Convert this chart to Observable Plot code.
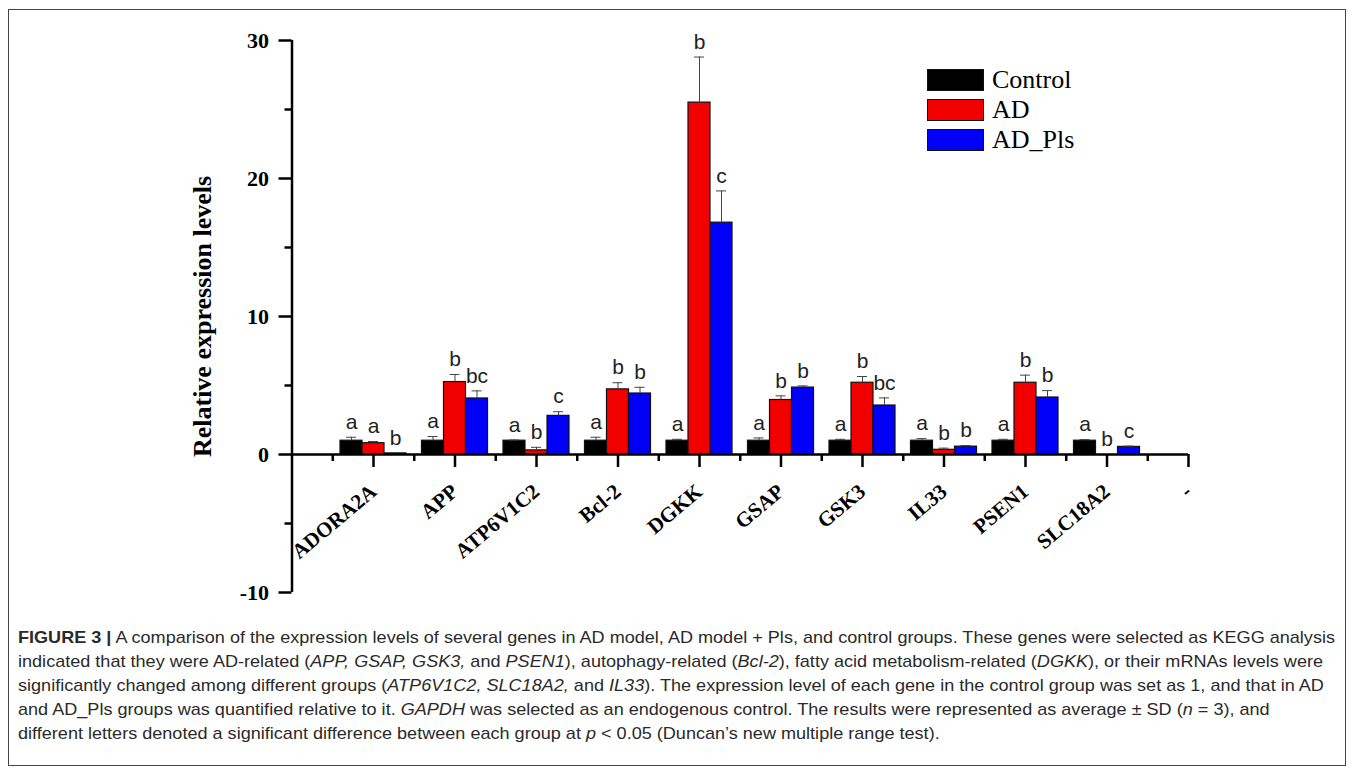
<!DOCTYPE html>
<html>
<head>
<meta charset="utf-8">
<script src="https://cdn.jsdelivr.net/npm/d3@7"></script>
<script src="https://cdn.jsdelivr.net/npm/@observablehq/plot@0.6"></script>
<style>
  html, body { margin: 0; padding: 0; background: #fff; }
  #wrap { position: relative; width: 1355px; height: 773px; overflow: hidden; }
  #frame { position: absolute; left: 8px; top: 9px; width: 1338px; height: 757px; border: 1px solid #444; box-sizing: border-box; }
  #chart { position: absolute; left: 0; top: 0; }
  #legend { position: absolute; left: 927px; top: 65px; font-family: "Liberation Serif", "Times New Roman", serif; font-size: 26px; color: #000; }
  #legend .row { display: flex; align-items: center; height: 30px; }
  #legend .sw { width: 55px; height: 20px; border: 1.5px solid #111; margin-right: 8px; }
  #caption { position: absolute; left: 18px; top: 626px; font-family: "Liberation Sans", Arial, sans-serif; font-size: 17px; line-height: 24px; color: #2a2a2a; transform-origin: 0 0; white-space: nowrap; }
  #caption .ln { display: block; }
</style>
</head>
<body>
<div id="wrap">
  <div id="frame"></div>
  <div id="chart"></div>
  <div id="legend"></div>
  <div id="caption"></div>
</div>
<script>
// ---- data ----
const genes = ["ADORA2A", "APP", "ATP6V1C2", "Bcl-2", "DGKK", "GSAP", "GSK3", "IL33", "PSEN1", "SLC18A2"];
const tickLabels = ["ADORA2A", "APP", "ATP6V1C2", "Bcl-2", "DGKK", "GSAP", "GSK3", "IL33", "PSEN1", "SLC18A2", "-"];
const groups = ["Control", "AD", "AD_Pls"];
const groupColors = ["#000000", "#f20000", "#0000f8"];

const controlMean = [1, 1, 1, 1, 1, 1, 1, 1, 1, 1];
const controlSD   = [0.25, 0.3, 0.05, 0.25, 0.1, 0.2, 0.1, 0.15, 0.1, 0.08];
const adMean      = [0.82, 5.25, 0.3, 4.72, 25.5, 3.95, 5.2, 0.34, 5.2, 0.0];
const adSD        = [0.12, 0.55, 0.22, 0.48, 3.3, 0.3, 0.45, 0.12, 0.55, 0.0];
const adPlsMean   = [0.08, 4.06, 2.8, 4.42, 16.8, 4.85, 3.55, 0.57, 4.13, 0.55];
const adPlsSD     = [0.02, 0.55, 0.3, 0.45, 2.3, 0.12, 0.55, 0.08, 0.5, 0.06];

const controlLetters = ["a", "a", "a", "a", "a", "a", "a", "a", "a", "a"];
const adLetters      = ["a", "b", "b", "b", "b", "b", "b", "b", "b", "b"];
const adPlsLetters   = ["b", "bc", "c", "b", "c", "b", "bc", "b", "b", "c"];

const yMajorTicks = [-10, 0, 10, 20, 30];
const yMinorTicks = [-5, 5, 15, 25];
const yLabel = "Relative expression levels";

// ---- table built from arrays ----
const means = [controlMean, adMean, adPlsMean];
const sds = [controlSD, adSD, adPlsSD];
const letters = [controlLetters, adLetters, adPlsLetters];
const barW = 0.27; // bar width in category units
const rows = [];
genes.forEach((g, i) => {
  groups.forEach((grp, k) => {
    const cx = (i + 1) + (k - 1) * barW;
    rows.push({gene: g, group: grp, cx, value: means[k][i], sd: sds[k][i], letter: letters[k][i]});
  });
});

const serif = "Liberation Serif, Times New Roman, serif";
const sans = "Liberation Sans, Arial, sans-serif";

const chart = Plot.plot({
  width: 1355,
  height: 625,
  marginLeft: 291.5,
  marginRight: 167,
  marginTop: 40,
  marginBottom: 33,
  x: {domain: [0, 11], axis: null},
  y: {domain: [-10, 30], axis: null},
  color: {domain: groups, range: groupColors},
  style: {background: "transparent", overflow: "visible"},
  marks: [
    // bars
    Plot.rectY(rows, {
      x1: d => d.cx - barW / 2, x2: d => d.cx + barW / 2,
      y1: 0, y2: "value", fill: "group", stroke: "#111", strokeWidth: 1.2
    }),
    // error bars
    Plot.ruleX(rows.filter(d => d.sd > 0), {x: "cx", y1: "value", y2: d => d.value + d.sd, stroke: "#444", strokeWidth: 1}),
    Plot.ruleY(rows.filter(d => d.sd > 0), {y: d => d.value + d.sd, x1: "cx", x2: "cx", insetLeft: -5, insetRight: -5, stroke: "#444", strokeWidth: 1}),
    // significance letters
    Plot.text(rows, {x: "cx", y: d => d.value + d.sd, text: "letter", dy: -15, fontFamily: sans, fontSize: 21, fill: "#222"}),
    // x axis line at y = 0
    Plot.ruleY([0], {x1: 0, x2: 11, stroke: "#000", strokeWidth: 2.5}),
    // y axis line
    Plot.ruleX([0], {y1: -10, y2: 30, stroke: "#000", strokeWidth: 2.5}),
    // x major ticks
    Plot.ruleX(d3.range(1, 12), {x: d => d, y1: 0, y2: 0, insetBottom: -13, stroke: "#000", strokeWidth: 2.5}),
    // x minor ticks
    Plot.ruleX(d3.range(0.5, 11, 1), {x: d => d, y1: 0, y2: 0, insetBottom: -7, stroke: "#000", strokeWidth: 2.5}),
    // x tick labels
    Plot.text(tickLabels, {x: (d, i) => i + 1, y: 0, text: d => d, rotate: -40, textAnchor: "end", dx: 0, dy: 34,
      fontFamily: serif, fontWeight: "bold", fontSize: 21, fill: "#000"}),
    // y axis ticks
    Plot.axisY(yMajorTicks, {tickSize: 13, tickPadding: 10, tickFormat: d => String(d), strokeWidth: 2.5, stroke: "#000",
      fontFamily: serif, fontWeight: "bold", fontSize: 22, fill: "#000", label: null}),
    Plot.axisY(yMinorTicks, {tickSize: 7, tickFormat: () => "", strokeWidth: 2.5, stroke: "#000", label: null}),
    // y axis title
    Plot.text([yLabel], {frameAnchor: "left", textAnchor: "middle", rotate: -90, dx: -89, text: d => d,
      fontFamily: serif, fontWeight: "bold", fontSize: 26, fill: "#000"})
  ]
});
document.getElementById("chart").appendChild(chart);

// legend
const legend = document.getElementById("legend");
groups.forEach((g, k) => {
  const row = document.createElement("div");
  row.className = "row";
  const sw = document.createElement("div");
  sw.className = "sw";
  sw.style.background = groupColors[k];
  const lab = document.createElement("span");
  lab.textContent = g;
  row.appendChild(sw); row.appendChild(lab);
  legend.appendChild(row);
});

// caption
const captionLines = [
  '<b>FIGURE 3 |</b> A comparison of the expression levels of several genes in AD model, AD model + Pls, and control groups. These genes were selected as KEGG analysis',
  'indicated that they were AD-related (<i>APP, GSAP, GSK3,</i> and <i>PSEN1</i>), autophagy-related (<i>Bcl-2</i>), fatty acid metabolism-related (<i>DGKK</i>), or their mRNAs levels were',
  'significantly changed among different groups (<i>ATP6V1C2, SLC18A2,</i> and <i>IL33</i>). The expression level of each gene in the control group was set as 1, and that in AD',
  'and AD_Pls groups was quantified relative to it. <i>GAPDH</i> was selected as an endogenous control. The results were represented as average \u00b1 SD (<i>n</i> = 3), and',
  'different letters denoted a significant difference between each group at <i>p</i> &lt; 0.05 (Duncan\u2019s new multiple range test).'
];
const cap = document.getElementById("caption");
cap.innerHTML = captionLines.map(l => '<span class="ln">' + l + '</span>').join("");
const first = cap.querySelector(".ln");
const range = document.createRange();
range.selectNodeContents(first);
const w = range.getBoundingClientRect().width;
if (w > 0) cap.style.transform = "scaleX(" + (1317 / w) + ")";
</script>
</body>
</html>
